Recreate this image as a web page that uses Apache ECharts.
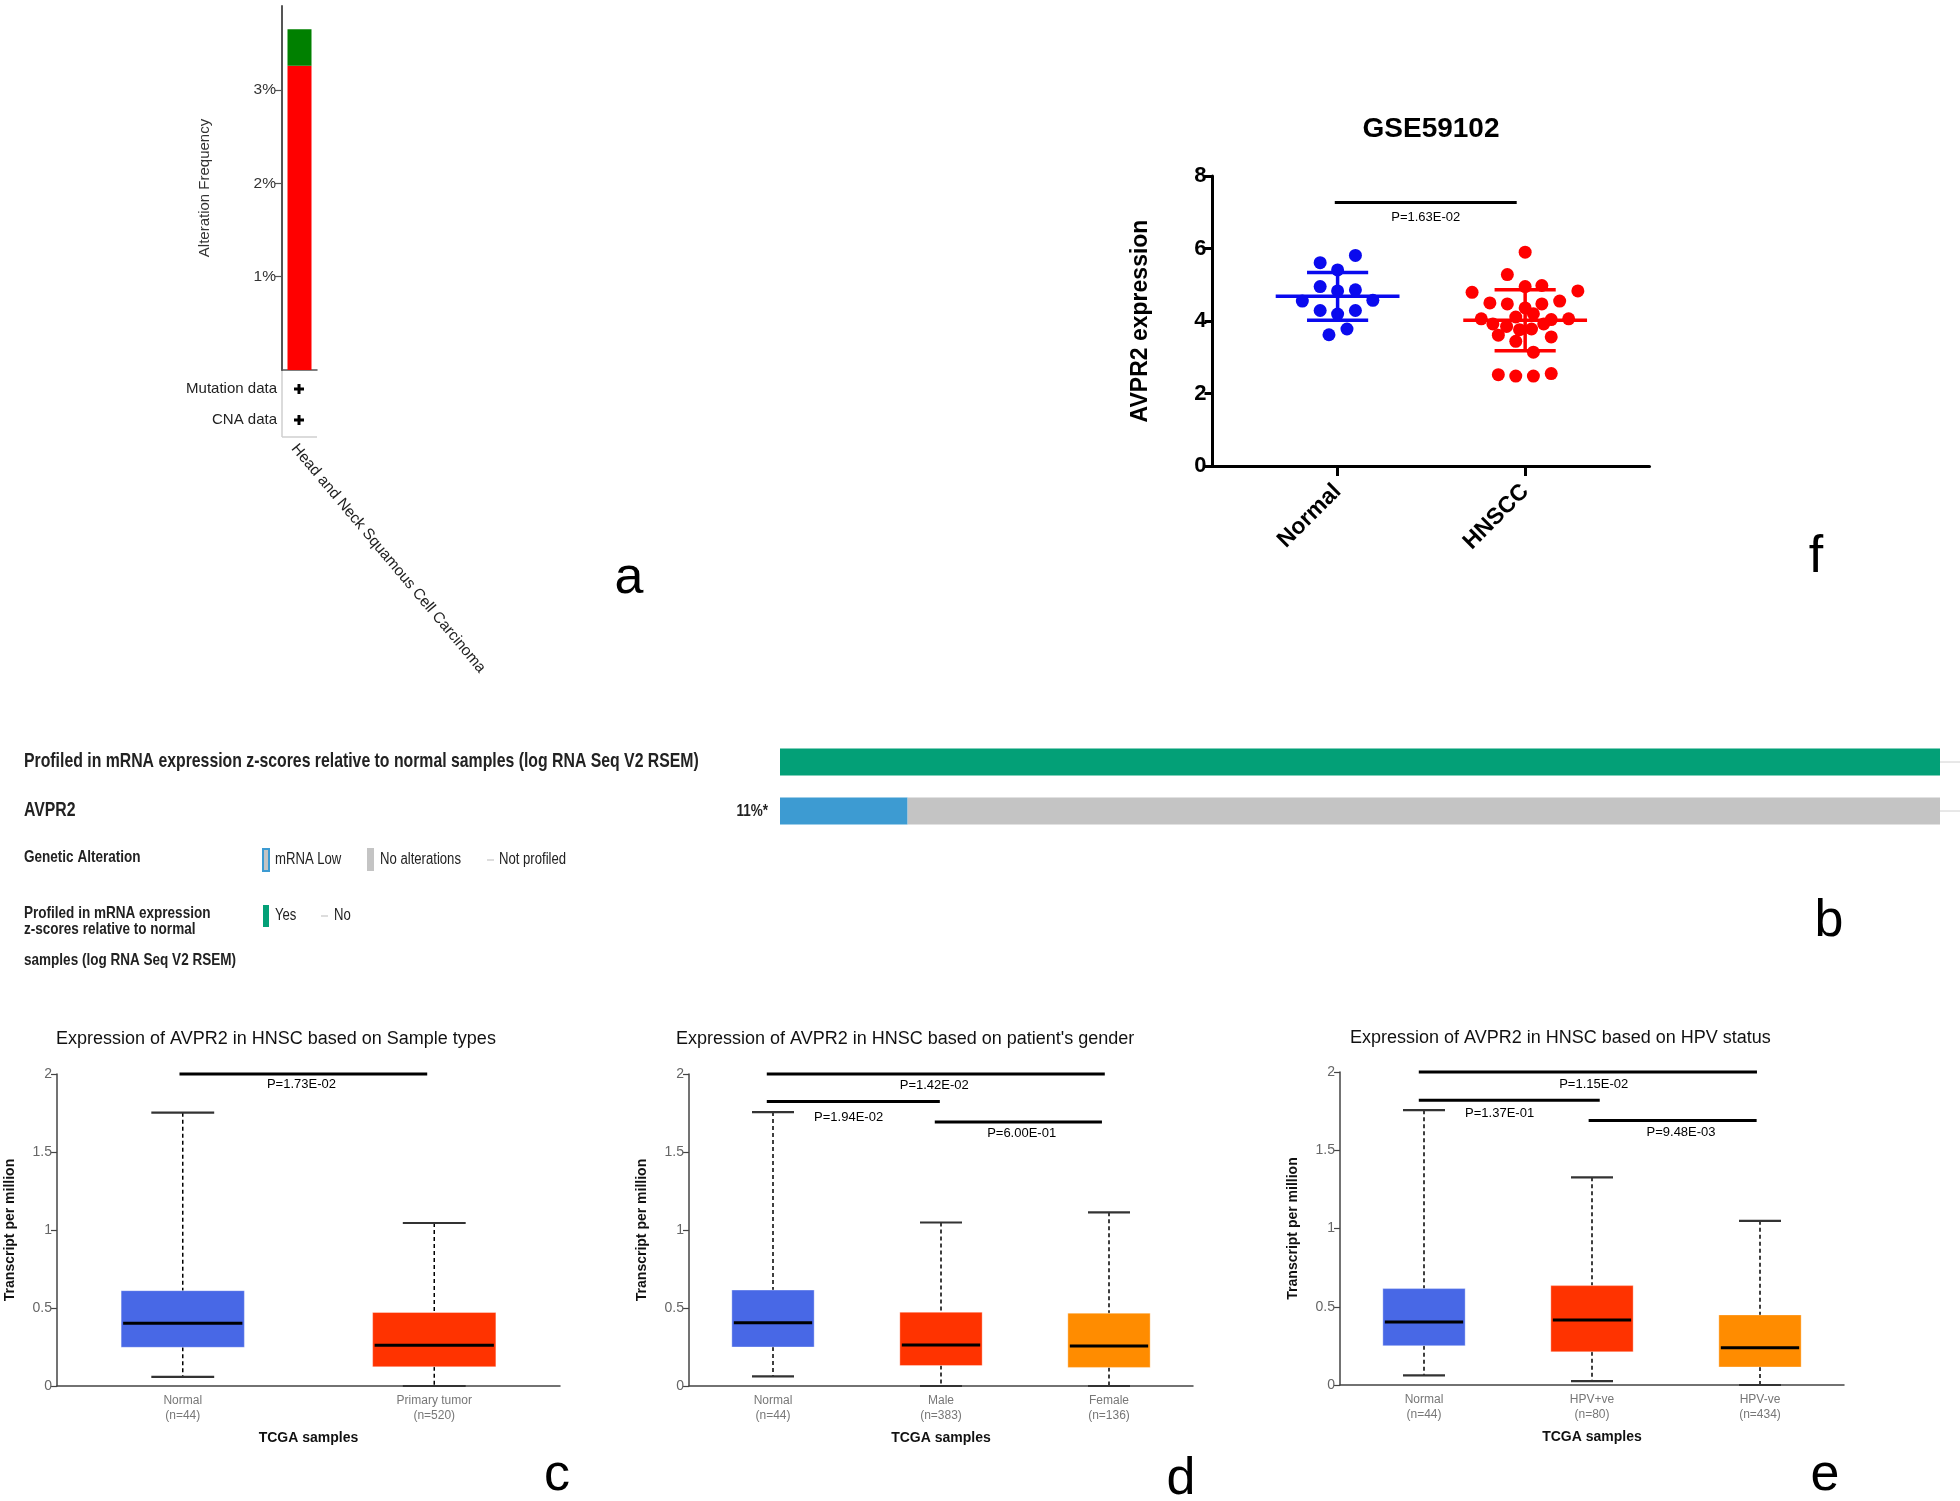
<!DOCTYPE html>
<html><head><meta charset="utf-8">
<script src="https://cdn.jsdelivr.net/npm/echarts@6.0.0/dist/echarts.min.js"></script>
<style>html,body{margin:0;padding:0;background:#fff}#c{width:1960px;height:1501px}</style>
</head><body><div id="c"></div><script>
// ---------- Panel a (cBioPortal alteration frequency) ----------
const aCategory = ['Head and Neck Squamous Cell Carcinoma'];
const aAmplification = [3.26];
const aMutation = [0.39];
const aTicks = [1, 2, 3];
const aProfileRows = ['Mutation data', 'CNA data'];

// ---------- Panel b (oncoprint) ----------
const bRows = ['Profiled in mRNA expression z-scores relative to normal samples (log RNA Seq V2 RSEM)', 'AVPR2'];
const bProfiled = [100, null];
const bMrnaLow = [null, 11];
const bNoAlt = [null, 89];
const bPercent = '11%*';

// ---------- Panel f (GSE59102) ----------
const fCategories = ['Normal', 'HNSCC'];
const fNormalX = [1.095, 0.907, 1.0, 0.907, 1.0, 1.095, 0.812, 1.188, 0.907, 1.095, 1.0, 1.05, 0.954];
const fNormalY = [5.81, 5.61, 5.41, 4.95, 4.83, 4.86, 4.55, 4.57, 4.29, 4.29, 4.19, 3.78, 3.62];
const fHnsccX = [2.0, 1.905, 2.0, 2.089, 1.717, 2.281, 1.812, 1.905, 2.089, 2.184, 2.0, 2.044, 1.766, 1.95, 2.139, 2.232, 1.828, 1.901, 2.099, 1.97, 2.034, 1.857, 2.139, 1.95, 2.044, 1.857, 1.95, 2.044, 2.139];
const fHnsccY = [5.90, 5.28, 4.95, 4.98, 4.79, 4.83, 4.50, 4.47, 4.47, 4.55, 4.36, 4.20, 4.06, 4.11, 4.04, 4.06, 3.92, 3.85, 3.92, 3.76, 3.78, 3.61, 3.56, 3.44, 3.14, 2.52, 2.48, 2.48, 2.55];
const fMeanSd = [[1, 4.68, 0.66], [2, 4.02, 0.84]];
const fSig = [[0.985, 1.955, 7.27, 1.47, 6.86]];
const fSigText = ['P=1.63E-02'];

// ---------- Panels c, d, e (UALCAN boxplots) [low, q1, median, q3, high] ----------
const cCats = ['Normal\n(n=44)', 'Primary tumor\n(n=520)'];
const cBoxes = [[0.059, 0.248, 0.403, 0.611, 1.752], [0, 0.123, 0.261, 0.471, 1.045]];
const cSig = [[0.987, 1.972, 2.0, 1.472, 1.93]];
const cSigText = ['P=1.73E-02'];

const dCats = ['Normal\n(n=44)', 'Male\n(n=383)', 'Female\n(n=136)'];
const dBoxes = [[0.062, 0.250, 0.405, 0.615, 1.756], [0, 0.131, 0.263, 0.473, 1.048], [0, 0.119, 0.257, 0.467, 1.113]];
const dSig = [[0.963, 2.975, 2.0, 1.96, 1.924], [0.963, 1.993, 1.824, 1.45, 1.724], [1.963, 2.958, 1.692, 2.48, 1.618]];
const dSigText = ['P=1.42E-02', 'P=1.94E-02', 'P=6.00E-01'];

const eCats = ['Normal\n(n=44)', 'HPV+ve\n(n=80)', 'HPV-ve\n(n=434)'];
const eBoxes = [[0.062, 0.251, 0.403, 0.616, 1.756], [0.025, 0.212, 0.416, 0.635, 1.327], [0, 0.115, 0.238, 0.448, 1.049]];
const eSig = [[0.969, 2.982, 2.0, 2.01, 1.921], [0.969, 2.046, 1.820, 1.45, 1.735], [1.98, 2.98, 1.690, 2.53, 1.614]];
const eSigText = ['P=1.15E-02', 'P=1.37E-01', 'P=9.48E-03'];

const boxTitles = ['Expression of AVPR2 in HNSC based on Sample types', "Expression of AVPR2 in HNSC based on patient's gender", 'Expression of AVPR2 in HNSC based on HPV status'];
const panelLetters = ['a', 'b', 'c', 'd', 'e', 'f'];

const SANS = "'Liberation Sans', Arial, Helvetica, sans-serif";
const NX = 0.82; // horizontal squeeze imitating a narrow face in panel b
const BLUE_BOX = '#4868e6', RED_BOX = '#ff3300', ORANGE_BOX = '#ff8c00';

const chart = echarts.init(document.getElementById('c'), null, {width: 1960, height: 1501});

function sigRender(labels) {
  return function (params, api) {
    const p1 = api.coord([api.value(0), api.value(2)]);
    const p2 = api.coord([api.value(1), api.value(2)]);
    const t = api.coord([api.value(3), api.value(4)]);
    return {type: 'group', children: [
      {type: 'line', shape: {x1: p1[0], y1: p1[1], x2: p2[0], y2: p2[1]}, style: {stroke: '#000', lineWidth: 3}},
      {type: 'text', x: t[0], y: t[1], style: {text: labels[params.dataIndex], align: 'center', verticalAlign: 'middle', font: '13px ' + SANS, fill: '#000'}}
    ]};
  };
}
function boxRender(colors) {
  return function (params, api) {
    const x = api.value(0);
    const low = api.coord([x, api.value(1)]), q1 = api.coord([x, api.value(2)]), med = api.coord([x, api.value(3)]),
          q3 = api.coord([x, api.value(4)]), high = api.coord([x, api.value(5)]);
    const unit = api.size([1, 0])[0];
    const bw = 0.245 * unit, cw = 0.125 * unit, cx = low[0];
    const dash = {stroke: '#000', lineWidth: 1.5, lineDash: [4, 3]};
    const cap = {stroke: '#333', lineWidth: 2.2};
    return {type: 'group', children: [
      {type: 'line', shape: {x1: cx, y1: high[1], x2: cx, y2: q3[1]}, style: dash},
      {type: 'line', shape: {x1: cx, y1: q1[1], x2: cx, y2: low[1]}, style: dash},
      {type: 'line', shape: {x1: cx - cw, y1: high[1], x2: cx + cw, y2: high[1]}, style: cap},
      {type: 'line', shape: {x1: cx - cw, y1: low[1], x2: cx + cw, y2: low[1]}, style: cap},
      {type: 'rect', shape: {x: cx - bw, y: q3[1], width: 2 * bw, height: q1[1] - q3[1]}, style: {fill: colors[params.dataIndex], stroke: 'rgba(255,255,255,0.35)', lineWidth: 1}},
      {type: 'line', shape: {x1: cx - bw + 2, y1: med[1], x2: cx + bw - 2, y2: med[1]}, style: {stroke: '#000', lineWidth: 3}}
    ]};
  };
}
function errRender(colors) {
  return function (params, api) {
    const x = api.value(0), m = api.value(1), s = api.value(2);
    const unit = api.size([1, 0])[0];
    const c = api.coord([x, m]), hi = api.coord([x, m + s]), lo = api.coord([x, m - s]);
    const mw = 0.33 * unit, sw = 0.163 * unit;
    const st = {stroke: colors[params.dataIndex], lineWidth: 3.5};
    return {type: 'group', children: [
      {type: 'line', shape: {x1: c[0] - mw, y1: c[1], x2: c[0] + mw, y2: c[1]}, style: st},
      {type: 'line', shape: {x1: hi[0], y1: hi[1], x2: lo[0], y2: lo[1]}, style: st},
      {type: 'line', shape: {x1: hi[0] - sw, y1: hi[1], x2: hi[0] + sw, y2: hi[1]}, style: st},
      {type: 'line', shape: {x1: lo[0] - sw, y1: lo[1], x2: lo[0] + sw, y2: lo[1]}, style: st}
    ]};
  };
}
function boxXAxis(grid, cats) {
  const vals = cats.map((_, i) => i + 1);
  return {gridIndex: grid, type: 'value', min: 0.5, max: cats.length + 0.5,
    axisLine: {show: true, lineStyle: {color: '#444', width: 1.5}}, axisTick: {show: false}, splitLine: {show: false},
    axisLabel: {customValues: vals, formatter: v => cats[Math.round(v) - 1], color: '#777', fontSize: 12, lineHeight: 15, margin: 7, fontFamily: SANS},
    name: 'TCGA samples', nameLocation: 'middle', nameGap: 45, nameTextStyle: {fontSize: 14, fontWeight: 'bold', color: '#111', fontFamily: SANS}};
}
function boxYAxis(grid) {
  return {gridIndex: grid, type: 'value', min: 0, max: 2, interval: 0.5,
    axisLine: {show: true, lineStyle: {color: '#444', width: 1.5}}, axisTick: {show: true, length: 6, lineStyle: {color: '#444', width: 1.2}},
    axisLabel: {color: '#666', fontSize: 14, margin: 5, fontFamily: SANS}, splitLine: {show: false},
    name: 'Transcript per million', nameLocation: 'middle', nameGap: 40, nameTextStyle: {fontSize: 14, fontWeight: 'bold', color: '#111', fontFamily: SANS}};
}
const toRows = boxes => boxes.map((b, i) => [i + 1].concat(b));
function narrowText(x, y, text, font, align) {
  return {type: 'text', x: x, y: y, scaleX: NX, style: {text: text, align: align || 'left', verticalAlign: 'middle', font: font, fill: '#222'}};
}

const graphics = [];
// panel a: category label and profile box
graphics.push({type: 'text', x: 294, y: 446, rotation: -50 * Math.PI / 180,
  style: {text: aCategory[0], align: 'left', verticalAlign: 'middle', font: '15.4px ' + SANS, fill: '#222'}});
graphics.push({type: 'line', shape: {x1: 282, y1: 370, x2: 282, y2: 437}, style: {stroke: '#cfcfcf', lineWidth: 1.5}});
graphics.push({type: 'line', shape: {x1: 282, y1: 437, x2: 317, y2: 437}, style: {stroke: '#cfcfcf', lineWidth: 1.5}});
aProfileRows.forEach((t, i) => {
  const y = 389 + i * 31;
  graphics.push({type: 'text', x: 277, y: y, style: {text: t, align: 'right', verticalAlign: 'middle', font: '15px ' + SANS, fill: '#222'}});
  graphics.push({type: 'rect', shape: {x: 294, y: y - 1.5, width: 10, height: 3}, style: {fill: '#000'}});
  graphics.push({type: 'rect', shape: {x: 297.5, y: y - 5, width: 3, height: 10}, style: {fill: '#000'}});
});
// panel b row labels and legends
graphics.push(narrowText(24, 762, bRows[0], 'bold 19.3px ' + SANS));
graphics.push(narrowText(24, 811, bRows[1], 'bold 19.3px ' + SANS));
graphics.push(narrowText(768, 811, bPercent, 'bold 16.5px ' + SANS, 'right'));
graphics.push({type: 'line', shape: {x1: 1940, y1: 762, x2: 1960, y2: 762}, style: {stroke: '#d0d0d0', lineWidth: 1}});
graphics.push({type: 'line', shape: {x1: 1940, y1: 811, x2: 1960, y2: 811}, style: {stroke: '#d0d0d0', lineWidth: 1}});
graphics.push(narrowText(24, 857, 'Genetic Alteration', 'bold 16.5px ' + SANS));
graphics.push({type: 'rect', shape: {x: 263, y: 849, width: 6, height: 22}, style: {fill: '#c4c4c4', stroke: '#3d9bd2', lineWidth: 2}});
graphics.push(narrowText(275, 860, 'mRNA Low', '16px ' + SANS));
graphics.push({type: 'rect', shape: {x: 367, y: 848, width: 7, height: 23}, style: {fill: '#c4c4c4'}});
graphics.push(narrowText(380, 860, 'No alterations', '16px ' + SANS));
graphics.push({type: 'line', shape: {x1: 487, y1: 860, x2: 494, y2: 860}, style: {stroke: '#bbb', lineWidth: 1}});
graphics.push(narrowText(499, 860, 'Not profiled', '16px ' + SANS));
[['Profiled in mRNA expression', 913], ['z-scores relative to normal', 929], ['samples (log RNA Seq V2 RSEM)', 960]].forEach(r => {
  graphics.push(narrowText(24, r[1], r[0], 'bold 16.5px ' + SANS));
});
graphics.push({type: 'rect', shape: {x: 263, y: 905, width: 6, height: 22}, style: {fill: '#03a077'}});
graphics.push(narrowText(275, 916, 'Yes', '16px ' + SANS));
graphics.push({type: 'line', shape: {x1: 321, y1: 916, x2: 328, y2: 916}, style: {stroke: '#bbb', lineWidth: 1}});
graphics.push(narrowText(334, 916, 'No', '16px ' + SANS));
// titles
graphics.push({type: 'text', x: 1431, y: 129, style: {text: 'GSE59102', align: 'center', verticalAlign: 'middle', font: 'bold 28px ' + SANS, fill: '#000'}});
[[56, 1039], [676, 1039], [1350, 1038]].forEach((p, i) => {
  graphics.push({type: 'text', x: p[0], y: p[1], style: {text: boxTitles[i], verticalAlign: 'middle', font: '18px ' + SANS, fill: '#111'}});
});
// panel letters
[[629, 579], [1829, 922], [557, 1476], [1181, 1480], [1825, 1476], [1816, 558]].forEach((p, i) => {
  graphics.push({type: 'text', x: p[0], y: p[1], style: {text: panelLetters[i], align: 'center', verticalAlign: 'middle', font: '52px ' + SANS, fill: '#000'}});
});

const option = {
  backgroundColor: '#fff',
  animation: false,
  grid: [
    {left: 282, top: 6, width: 35, height: 364},
    {left: 780, top: 737.5, width: 1160, height: 98},
    {left: 1212.5, top: 176, width: 437, height: 290},
    {left: 57, top: 1074, width: 503, height: 312},
    {left: 689, top: 1074, width: 504, height: 312},
    {left: 1340, top: 1072, width: 504, height: 313}
  ],
  xAxis: [
    {gridIndex: 0, type: 'category', data: aCategory, axisLine: {lineStyle: {color: '#555', width: 1.5}}, axisTick: {show: false}, axisLabel: {show: false}},
    {gridIndex: 1, type: 'value', min: 0, max: 100, show: false},
    {gridIndex: 2, type: 'value', min: 0.333, max: 2.663, splitLine: {show: false},
      axisLine: {show: true, lineStyle: {color: '#000', width: 3}},
      axisTick: {show: true, customValues: [1, 2], length: 10, lineStyle: {color: '#000', width: 3}},
      axisLabel: {customValues: [1, 2], formatter: v => fCategories[Math.round(v) - 1], rotate: 45, margin: 22, fontSize: 23, fontWeight: 'bold', color: '#000', fontFamily: SANS}},
    boxXAxis(3, cCats), boxXAxis(4, dCats), boxXAxis(5, eCats)
  ],
  yAxis: [
    {gridIndex: 0, type: 'value', min: 0, max: 3.9, splitLine: {show: false},
      axisLine: {show: true, lineStyle: {color: '#555', width: 2}},
      axisTick: {show: true, length: 7, customValues: aTicks, lineStyle: {color: '#555', width: 1.2}},
      axisLabel: {customValues: aTicks, formatter: v => v + '%', fontSize: 15.5, color: '#333', margin: 6, fontFamily: SANS},
      name: 'Alteration Frequency', nameLocation: 'middle', nameGap: 70, nameTextStyle: {fontSize: 15, color: '#333', fontFamily: SANS}},
    {gridIndex: 1, type: 'category', inverse: true, data: bRows, axisLine: {show: false}, axisTick: {show: false}, axisLabel: {show: false}},
    {gridIndex: 2, type: 'value', min: 0, max: 8, interval: 2, splitLine: {show: false},
      axisLine: {show: true, lineStyle: {color: '#000', width: 3}},
      axisTick: {show: true, length: 8, lineStyle: {color: '#000', width: 3}},
      axisLabel: {fontSize: 22, fontWeight: 'bold', color: '#000', margin: 6, fontFamily: SANS},
      name: 'AVPR2 expression', nameLocation: 'middle', nameGap: 60, nameTextStyle: {fontSize: 23, fontWeight: 'bold', color: '#000', fontFamily: SANS}},
    boxYAxis(3), boxYAxis(4), boxYAxis(5)
  ],
  series: [
    {type: 'bar', xAxisIndex: 0, yAxisIndex: 0, stack: 'a', barWidth: 24, data: aAmplification, itemStyle: {color: '#ff0000'}},
    {type: 'bar', xAxisIndex: 0, yAxisIndex: 0, stack: 'a', barWidth: 24, data: aMutation, itemStyle: {color: '#008000'}},
    {type: 'bar', xAxisIndex: 1, yAxisIndex: 1, stack: 'b', barWidth: 27, data: bProfiled, itemStyle: {color: '#03a077'}},
    {type: 'bar', xAxisIndex: 1, yAxisIndex: 1, stack: 'b', barWidth: 27, data: bMrnaLow, itemStyle: {color: '#3d9bd2'}},
    {type: 'bar', xAxisIndex: 1, yAxisIndex: 1, stack: 'b', barWidth: 27, data: bNoAlt, itemStyle: {color: '#c4c4c4'}},
    {type: 'scatter', xAxisIndex: 2, yAxisIndex: 2, symbolSize: 13, data: fNormalX.map((x, i) => [x, fNormalY[i]]), itemStyle: {color: '#0a0aee', opacity: 1}},
    {type: 'scatter', xAxisIndex: 2, yAxisIndex: 2, symbolSize: 13, data: fHnsccX.map((x, i) => [x, fHnsccY[i]]), itemStyle: {color: '#ff0000', opacity: 1}},
    {type: 'custom', xAxisIndex: 2, yAxisIndex: 2, z: 5, data: fMeanSd, renderItem: errRender(['#0a0aee', '#ff0000'])},
    {type: 'custom', xAxisIndex: 2, yAxisIndex: 2, z: 5, data: fSig, renderItem: sigRender(fSigText)},
    {type: 'custom', xAxisIndex: 3, yAxisIndex: 3, data: toRows(cBoxes), renderItem: boxRender([BLUE_BOX, RED_BOX])},
    {type: 'custom', xAxisIndex: 3, yAxisIndex: 3, data: cSig, renderItem: sigRender(cSigText)},
    {type: 'custom', xAxisIndex: 4, yAxisIndex: 4, data: toRows(dBoxes), renderItem: boxRender([BLUE_BOX, RED_BOX, ORANGE_BOX])},
    {type: 'custom', xAxisIndex: 4, yAxisIndex: 4, data: dSig, renderItem: sigRender(dSigText)},
    {type: 'custom', xAxisIndex: 5, yAxisIndex: 5, data: toRows(eBoxes), renderItem: boxRender([BLUE_BOX, RED_BOX, ORANGE_BOX])},
    {type: 'custom', xAxisIndex: 5, yAxisIndex: 5, data: eSig, renderItem: sigRender(eSigText)}
  ],
  graphic: graphics
};
chart.setOption(option);
</script></body></html>
